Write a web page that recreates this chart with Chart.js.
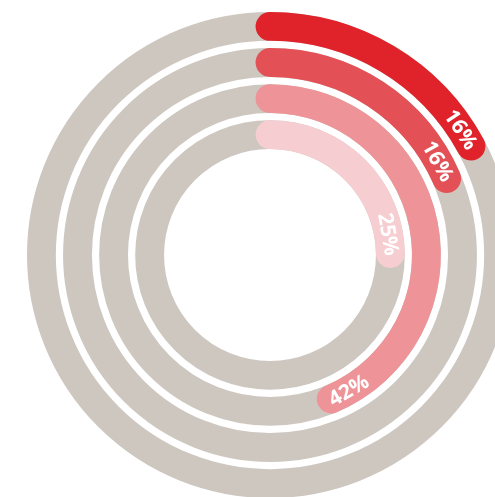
<!DOCTYPE html>
<html>
<head>
<meta charset="utf-8">
<script src="https://cdn.jsdelivr.net/npm/chart.js@4.4.1/dist/chart.umd.min.js"></script>
<style>
  html, body { margin: 0; padding: 0; background: #fff; overflow: hidden; }
  #wrap { width: 540px; height: 510px; }
</style>
</head>
<body>
<div id="wrap"><canvas id="rings"></canvas></div>
<script>
// Rings, outermost first. Values are how far each arc runs (% of a full turn)
const ringValues = [17.1, 18.5, 43.6, 24.8];
const ringLabels = ["16%", "16%", "42%", "25%"];
const ringColors = ["#e0232b", "#e35156", "#ee9397", "#f6cdd0"];
const trackColor = "#cdc7c0";

// build datasets, with a thin empty ring between each pair
const datasets = [];
ringValues.forEach((v, i) => {
  if (i > 0) {
    datasets.push({ data: [100], backgroundColor: ["rgba(0,0,0,0)"], weight: 1 });
  }
  datasets.push({
    data: [v, 100 - v],
    backgroundColor: [ringColors[i], "rgba(0,0,0,0)"],
    borderRadius: 20,
    weight: 4,
    ringIndex: i
  });
});

// half the ring thickness as an angle at the ring middle
function capAngle(arc) {
  const half = (arc.outerRadius - arc.innerRadius) / 2;
  return half / (arc.innerRadius + half);
}

const ringPlugin = {
  id: "ringTracks",
  afterDatasetsUpdate(chart) {
    // round ends sit centred on the start / end of the value
    chart.data.datasets.forEach((ds, di) => {
      if (ds.ringIndex === undefined) return;
      const arc = chart.getDatasetMeta(di).data[0];
      const c = capAngle(arc);
      arc.startAngle -= c;
      arc.endAngle += c;
    });
  },
  beforeDatasetsDraw(chart) {
    const ctx = chart.ctx;
    chart.data.datasets.forEach((ds, di) => {
      if (ds.ringIndex === undefined) return;
      const arc = chart.getDatasetMeta(di).data[0];
      ctx.save();
      ctx.strokeStyle = trackColor;
      ctx.lineWidth = arc.outerRadius - arc.innerRadius;
      ctx.beginPath();
      ctx.arc(arc.x, arc.y, (arc.outerRadius + arc.innerRadius) / 2, 0, Math.PI * 2);
      ctx.stroke();
      ctx.restore();
    });
  },
  afterDatasetsDraw(chart) {
    const ctx = chart.ctx;
    chart.data.datasets.forEach((ds, di) => {
      if (ds.ringIndex === undefined) return;
      const arc = chart.getDatasetMeta(di).data[0];
      const r = (arc.outerRadius + arc.innerRadius) / 2;
      const end = arc.endAngle - capAngle(arc);
      const text = ringLabels[ds.ringIndex];
      ctx.save();
      ctx.font = "bold 21px 'Open Sans'";
      const w = ctx.measureText(text).width;
      const a = end - (w / 2 - 2) / r;
      ctx.translate(arc.x + r * Math.cos(a), arc.y + r * Math.sin(a));
      const fromTop = a + Math.PI / 2;
      ctx.rotate(fromTop > Math.PI * 0.6 ? a - Math.PI / 2 : a + Math.PI / 2);
      ctx.fillStyle = "#ffffff";
      ctx.textAlign = "center";
      ctx.textBaseline = "middle";
      ctx.fillText(text, 0, 1);
      ctx.restore();
    });
  }
};

new Chart(document.getElementById("rings"), {
  type: "doughnut",
  data: { datasets: datasets },
  options: {
    responsive: true,
    maintainAspectRatio: false,
    animation: false,
    events: [],
    cutout: "43.6%",
    layout: { padding: { left: 27, right: 27, top: 12, bottom: 12 } },
    elements: { arc: { borderWidth: 0, hoverOffset: 0, hoverBorderWidth: 0 } },
    plugins: { legend: { display: false }, tooltip: { enabled: false } }
  },
  plugins: [ringPlugin]
});
</script>
</body>
</html>
